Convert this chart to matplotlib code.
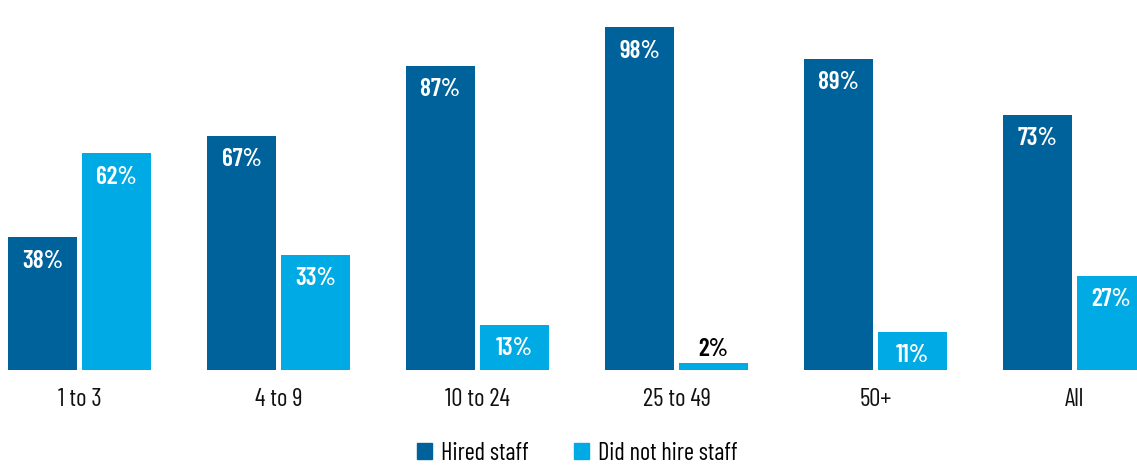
import matplotlib
matplotlib.use("Agg")
import matplotlib.pyplot as plt
from matplotlib.patches import Patch

categories = ["1 to 3", "4 to 9", "10 to 24", "25 to 49", "50+", "All"]
hired = [38, 67, 87, 98, 89, 73]
not_hired = [62, 33, 13, 2, 11, 27]
series_names = ["Hired staff", "Did not hire staff"]

DARK = "#00629a"
LIGHT = "#00aae5"

plt.rcParams["font.family"] = ["Barlow Condensed", "DejaVu Sans"]

fig = plt.figure(figsize=(11.37, 4.66), dpi=100)
W, H = 1137, 466
base_px, top_px = 370, 20          # pixel rows of 0 % and 100 %
ax = fig.add_axes([0, (H - base_px) / H, 1, (base_px - top_px) / H])

x = list(range(len(categories)))
w = 69 / 199
off = 37 / 199
xd = [i - off for i in x]
xl = [i + off for i in x]
ax.bar(xd, hired, width=w, color=DARK)
ax.bar(xl, not_hired, width=w, color=LIGHT)

ax.set_xlim(-79.5 / 199, (W - 79.5) / 199)
ax.set_ylim(0, 100)
ax.axis("off")

px = 100 / (base_px - top_px)  # data units per pixel
for xs, vals in ((xd, hired), (xl, not_hired)):
    for xi, v in zip(xs, vals):
        if v >= 8:
            ax.text(xi, v - 24 * px, f"{v}%", ha="center", va="center",
                    color="white", fontsize=18, fontweight="semibold")
        else:
            ax.text(xi, v + 13 * px, f"{v}%", ha="center", va="center",
                    color="black", fontsize=18, fontweight="semibold")

for xi, c in zip(x, categories):
    ax.text(xi, -30 * px, c, ha="center", va="center", fontsize=18, color="#111111")

handles = [Patch(color=DARK), Patch(color=LIGHT)]
fig.legend(handles, series_names, loc="center", bbox_to_anchor=(577 / W, 1 - 453 / H),
           ncol=2, frameon=False, fontsize=17.5, handlelength=0.65, handleheight=0.65,
           handletextpad=0.35, columnspacing=1.85, borderpad=0.1)

fig.savefig("out.png", dpi=100)
